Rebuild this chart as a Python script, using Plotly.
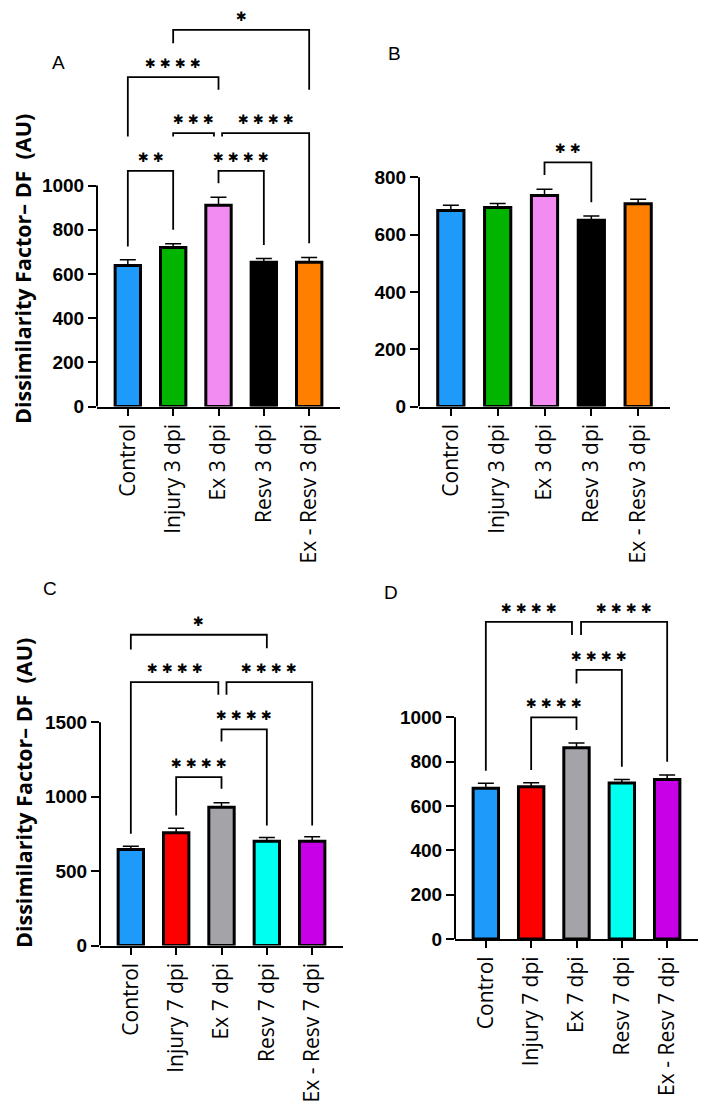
import plotly.graph_objects as go

# the page puts the figure 8 px in from the corner; positions below are window pixels
OFF = 8
W, H = 707, 1106

# ---- data ----
groups_3 = ["Control", "Injury 3 dpi", "Ex 3 dpi", "Resv 3 dpi", "Ex - Resv 3 dpi"]
groups_7 = ["Control", "Injury 7 dpi", "Ex 7 dpi", "Resv 7 dpi", "Ex - Resv 7 dpi"]

colors_3 = ["#1E9BFA", "#00B400", "#F28CF2", "#000000", "#FF8000"]
colors_7 = ["#1E9BFA", "#FF0000", "#A3A3A8", "#00FFF0", "#C800E8"]

df_a = [638, 720, 911, 653, 653]
sem_a = [26, 16, 36, 17, 21]
df_b = [684, 694, 736, 650, 707]
sem_b = [18, 14, 22, 15, 16]
df_c = [645, 757, 929, 701, 701]
sem_c = [22, 31, 29, 24, 29]
df_d = [680, 687, 863, 704, 720]
sem_d = [22, 18, 21, 16, 20]

# significance brackets: left bar, right bar, top, left leg end, right leg end, stars, leg nudges
brackets_a = [
    (0, 1, 1066, 724, 800, "**", 0, 0),
    (2, 3, 1066, 1010, 731, "****", 0, 0),
    (1, 2, 1237, 1222, 1222, "***", 0, -0.1),
    (2, 4, 1237, 1222, 739, "****", 0.08, 0),
    (0, 2, 1490, 1222, 1433, "****", 0, 0),
    (1, 4, 1704, 1644, 1433, "*", 0, 0),
]
brackets_b = [
    (2, 3, 852, 808, 713, "**", 0, 0),
]
brackets_c = [
    (1, 2, 1131, 873, 1052, "****", 0, 0),
    (2, 3, 1451, 1370, 806, "****", 0, 0),
    (0, 2, 1769, 750, 1684, "****", 0, -0.07),
    (2, 4, 1769, 1684, 806, "****", 0.11, 0),
    (0, 3, 2087, 1988, 1997, "*", 0, 0),
]
brackets_d = [
    (1, 2, 1000, 762, 943, "****", 0, 0),
    (2, 3, 1214, 1153, 777, "****", 0, 0),
    (0, 2, 1430, 759, 1371, "****", 0, -0.1),
    (2, 4, 1430, 1371, 800, "****", 0.1, 0),
]

# panel: values, errors, labels, colours, brackets, y max tick, y step,
# pixel box (axis x, axis end, zero y, top y), pixels per unit, letter position, title centre
panels = [
    ("A", df_a, sem_a, groups_3, colors_3, brackets_a, 1000, 200, (97, 340, 406.5, 10), 0.221, (58, 62), 269),
    ("B", df_b, sem_b, groups_3, colors_3, brackets_b, 800, 200, (419, 670, 406.5, 10), 0.2866, (394, 53), None),
    ("C", df_c, sem_c, groups_7, colors_7, brackets_c, 1500, 500, (100, 343, 945.5, 565), 0.14889, (50, 588), 793),
    ("D", df_d, sem_d, groups_7, colors_7, brackets_d, 1000, 200, (455, 698, 939, 565), 0.2217, (391, 592), None),
]


def px_x(x):
    return (x - OFF) / W


def px_y(y):
    return 1 - (y - OFF) / H


fig = go.Figure()
shapes = []
annotations = []
star_font = dict(family="DejaVu Sans", size=13, color="black")

for k, (letter, vals, errs, labels, cols, brs, ymax, ystep, box, ppu, lpos, ytitle) in enumerate(panels):
    n = "" if k == 0 else str(k + 1)
    xa, ya = "x" + n, "y" + n
    x_left, x_right, y_zero, y_top = box
    top_val = (y_zero - y_top) / ppu

    fig.add_trace(go.Bar(
        x=list(range(5)), y=vals, width=0.56,
        marker=dict(color=cols, line=dict(color="black", width=3)),
        error_y=dict(type="data", array=errs, arrayminus=[0] * 5, symmetric=False,
                     color="black", thickness=1.5, width=8),
        xaxis=xa, yaxis=ya, showlegend=False, hoverinfo="skip",
    ))

    fig.layout["xaxis" + n] = dict(
        domain=[px_x(x_left), px_x(x_right)], anchor=ya, range=[-0.68, 4.68],
        tickvals=list(range(5)), ticktext=labels, tickangle=-90,
        showline=True, linecolor="black", linewidth=2,
        ticks="outside", ticklen=7, tickwidth=2, tickcolor="black",
        showgrid=False, zeroline=False,
        tickfont=dict(family="Open Sans", size=21, color="black"),
    )
    fig.layout["yaxis" + n] = dict(
        domain=[px_y(y_zero), px_y(y_top)], anchor=xa, range=[0, top_val],
        tickvals=list(range(0, ymax + 1, ystep)),
        showline=False, showgrid=False, zeroline=False,
        ticks="outside", ticklen=8, tickwidth=2, tickcolor="black",
        tickfont=dict(family="Liberation Sans", size=19, color="black", weight="bold"),
    )

    # y axis line stops at the top tick
    shapes.append(dict(type="line", xref=xa + " domain", yref=ya, x0=0, x1=0, y0=0, y1=ymax,
                       line=dict(color="black", width=2)))

    for (i, j, top, yl, yr, stars, dl, dr) in brs:
        xi, xj = i + dl, j + dr
        shapes.append(dict(type="path", xref=xa, yref=ya,
                           path=f"M {xi},{yl} L {xi},{top} L {xj},{top} L {xj},{yr}",
                           line=dict(color="black", width=1.8)))
        annotations.append(dict(xref=xa, yref=ya, x=(xi + xj) / 2, y=top,
                                text=" ".join("✱" * len(stars)), showarrow=False,
                                yanchor="bottom", yshift=4, font=star_font))

    annotations.append(dict(xref="paper", yref="paper", x=px_x(lpos[0]), y=px_y(lpos[1]),
                            text=letter, showarrow=False, xanchor="center", yanchor="middle",
                            font=dict(family="Liberation Sans", size=19, color="black")))

    if ytitle is not None:
        annotations.append(dict(xref="paper", yref="paper", x=px_x(23), y=px_y(ytitle),
                                text="Dissimilarity Factor– DF  (AU)", textangle=-90, showarrow=False,
                                xanchor="center", yanchor="middle",
                                font=dict(family="Open Sans", size=21.5, color="black", weight="bold")))

fig.update_layout(
    width=W, height=H, margin=dict(l=0, r=0, t=0, b=0, autoexpand=False),
    paper_bgcolor="white", plot_bgcolor="white",
    shapes=shapes, annotations=annotations, bargap=0.3,
)

fig.write_html("out.html", config={"displayModeBar": False})
